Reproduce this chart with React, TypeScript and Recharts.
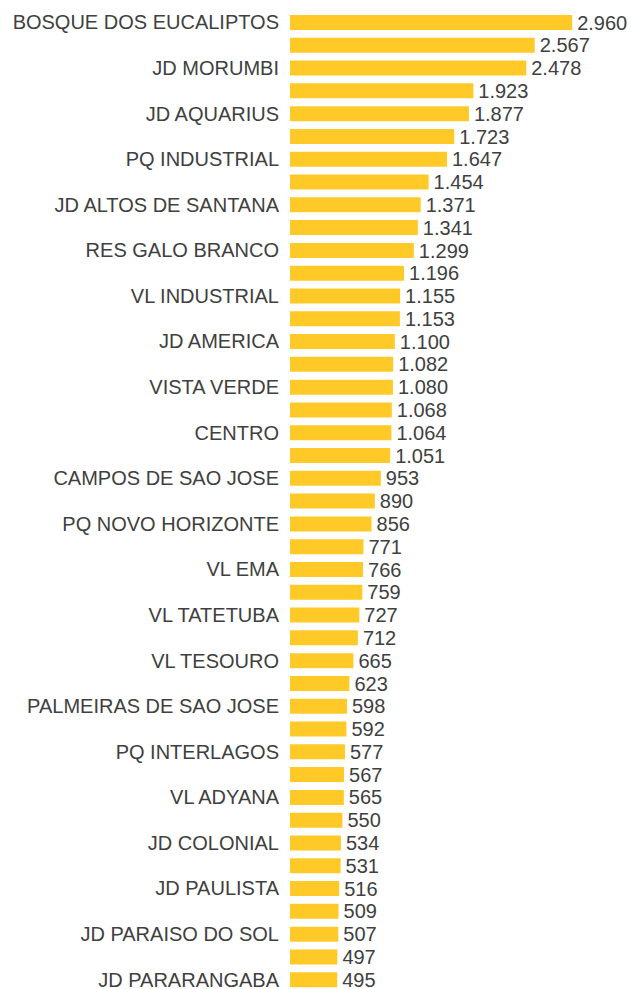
import { BarChart, Bar, XAxis, YAxis, LabelList } from "recharts"

// bairros com rótulo visível (um a cada duas barras)
const bairros = [
  "BOSQUE DOS EUCALIPTOS",
  "JD MORUMBI",
  "JD AQUARIUS",
  "PQ INDUSTRIAL",
  "JD ALTOS DE SANTANA",
  "RES GALO BRANCO",
  "VL INDUSTRIAL",
  "JD AMERICA",
  "VISTA VERDE",
  "CENTRO",
  "CAMPOS DE SAO JOSE",
  "PQ NOVO HORIZONTE",
  "VL EMA",
  "VL TATETUBA",
  "VL TESOURO",
  "PALMEIRAS DE SAO JOSE",
  "PQ INTERLAGOS",
  "VL ADYANA",
  "JD COLONIAL",
  "JD PAULISTA",
  "JD PARAISO DO SOL",
  "JD PARARANGABA",
]

const valores = [
  2960, 2567, 2478, 1923, 1877, 1723, 1647, 1454, 1371, 1341, 1299, 1196, 1155, 1153, 1100,
  1082, 1080, 1068, 1064, 1051, 953, 890, 856, 771, 766, 759, 727, 712, 665, 623, 598, 592,
  577, 567, 565, 550, 534, 531, 516, 509, 507, 497, 495,
]

const data = valores.map((value, i) => ({
  rank: i,
  name: i % 2 === 0 ? bairros[i / 2] : "",
  value,
}))

const fmt = (v: number) => String(v).replace(/\B(?=(\d{3})+(?!\d))/g, ".")

const FONT = "'Liberation Sans', Arial, sans-serif"

const Tick = (props: any) => {
  const { y, payload } = props
  const label = data[payload.value]?.name ?? ""
  return (
    <text x={279} y={y} dy={7} textAnchor="end" fontSize={20} fontFamily={FONT} fill="#404040">
      {label}
    </text>
  )
}

export default function App() {
  return (
    <div style={{ position: "absolute", top: 0, left: 0, width: 631, height: 989, overflow: "hidden", background: "#fff" }}>
      <BarChart
        width={631}
        height={991}
        data={data}
        layout="vertical"
        margin={{ top: 11, right: 55, bottom: 0, left: 0 }}
      >
        <XAxis type="number" domain={[0, 3000]} hide />
        <YAxis
          type="category"
          dataKey="rank"
          width={290}
          interval={0}
          axisLine={false}
          tickLine={false}
          tick={<Tick />}
        />
        <Bar dataKey="value" fill="#FFCA28" barSize={15} isAnimationActive={false}>
          <LabelList
            dataKey="value"
            position="right"
            offset={5}
            formatter={(v: any) => fmt(Number(v))}
            style={{ fontSize: 20, fontFamily: FONT, fill: "#404040" }}
          />
        </Bar>
      </BarChart>
    </div>
  )
}
